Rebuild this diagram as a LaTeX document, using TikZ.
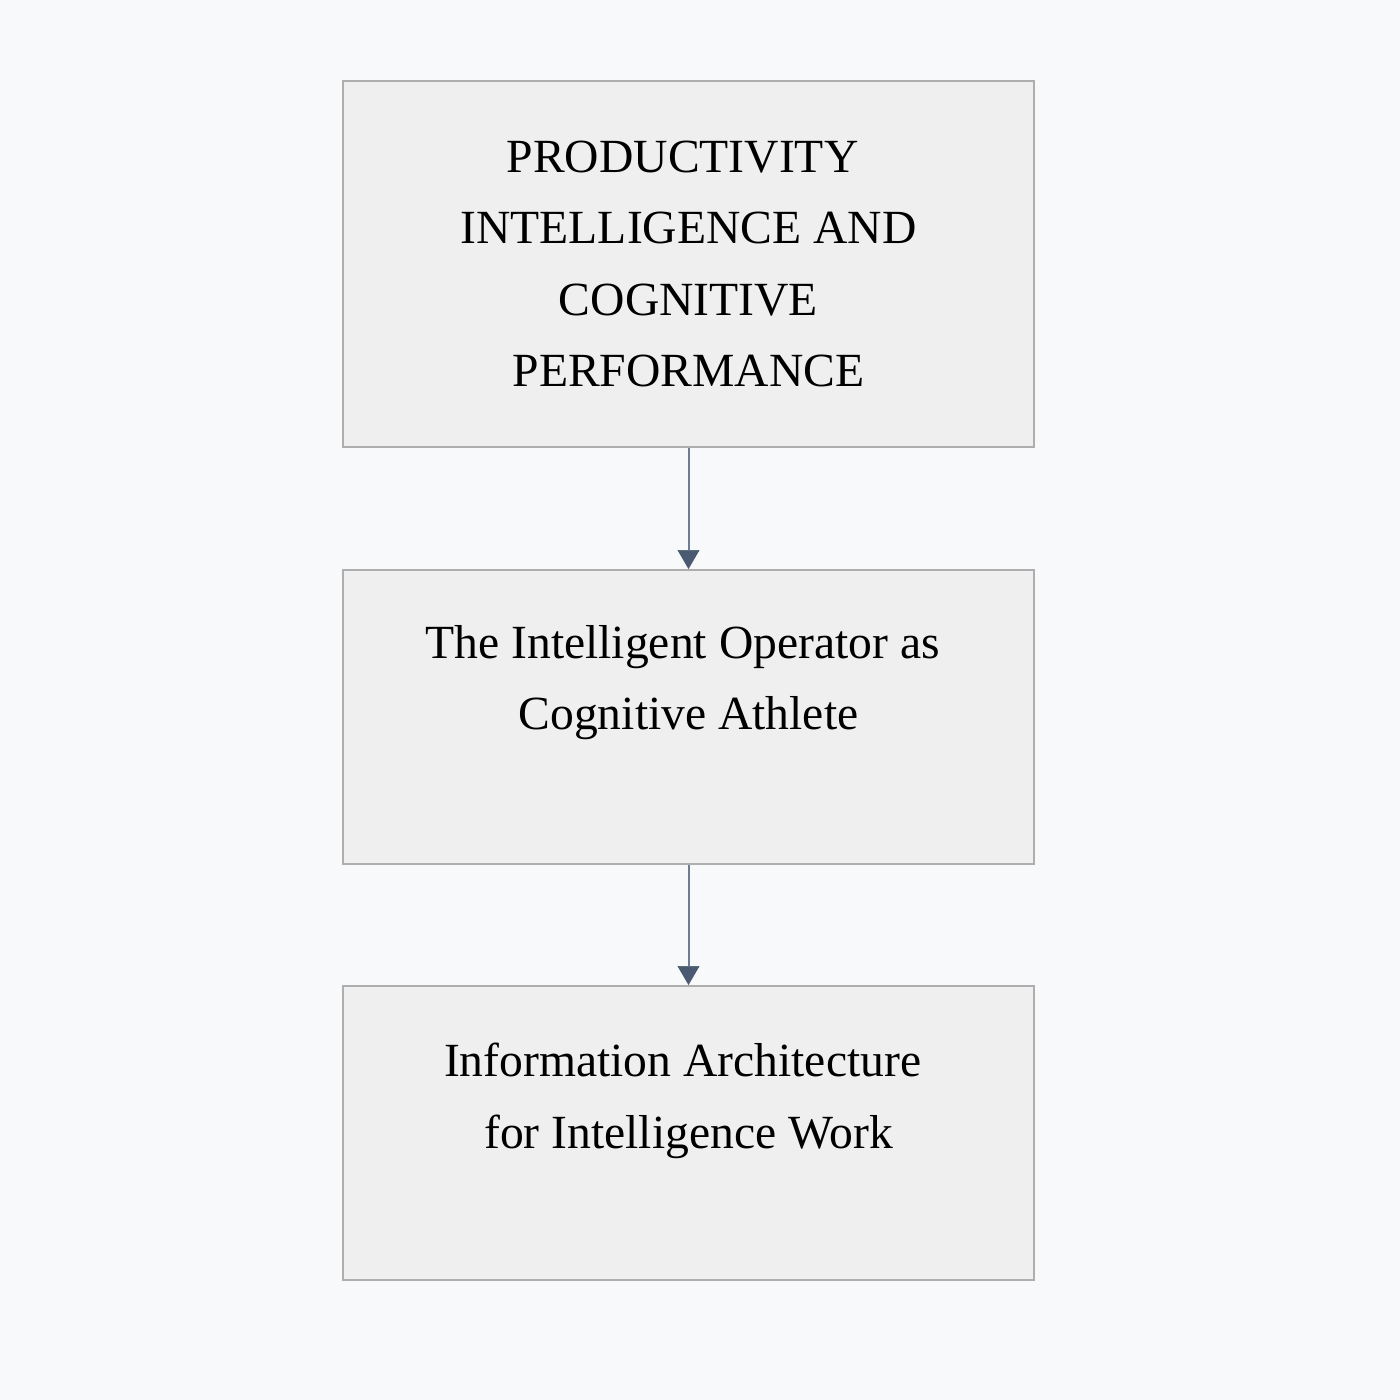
\documentclass[tikz,border=0pt]{standalone}
\usepackage{fontspec}
\setmainfont{Liberation Serif}
\usetikzlibrary{arrows.meta}
\definecolor{bgc}{HTML}{F8F9FB}
\definecolor{boxfill}{HTML}{EFEFEF}
\definecolor{boxline}{HTML}{AEAEAE}
\definecolor{arrline}{HTML}{6E7D90}
\definecolor{arrhead}{HTML}{4A5A70}
\tikzset{
  box/.style={draw=boxline, line width=1pt, fill=boxfill, rectangle, inner sep=0pt,
    minimum width=345.5pt, minimum height=#1},
  lbl/.style={inner sep=0pt, align=center, text=black,
    font=\fontsize{23.8pt}{35.7pt}\selectfont},
  conn/.style={draw=arrline, line width=1pt,
    -{Triangle[length=9.5pt,width=11pt,color=arrhead,fill=arrhead,line width=0.3pt]}}
}
\newcommand{\tsp}{\hspace*{5.9pt}}
\begin{document}
\begin{tikzpicture}[x=0.5pt,y=-0.5pt]
\fill[bgc] (0,0) rectangle (1400,1400);
\useasboundingbox (0,0) rectangle (1400,1400);
\node[box=183pt] (b1) at (688.5,264) {};
\node[box=147pt] (b2) at (688.5,717) {};
\node[box=147pt] (b3) at (688.5,1133) {};
\node[lbl] (t1) at (b1.center) {PRODUCTIVITY\tsp\\INTELLIGENCE AND\tsp\\COGNITIVE\tsp\\PERFORMANCE};
\node[lbl, anchor=north] (t2) at (688.5,625) {The Intelligent Operator as\tsp\\Cognitive Athlete};
\node[lbl, anchor=north] (t3) at (688.5,1043) {Information Architecture\tsp\\for Intelligence Work};
\draw[conn] (b1.south) -- (b2.north);
\draw[conn] (b2.south) -- (b3.north);
\end{tikzpicture}
\end{document}
